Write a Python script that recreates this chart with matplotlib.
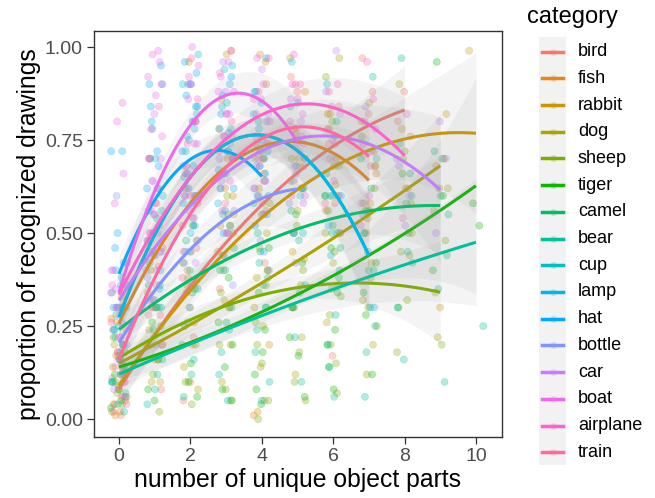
import numpy as np
import matplotlib.pyplot as plt
from matplotlib.lines import Line2D
from matplotlib.patches import Rectangle

plt.rcParams['font.family'] = ['Liberation Sans', 'DejaVu Sans']

categories = ['bird', 'fish', 'rabbit', 'dog', 'sheep', 'tiger', 'camel', 'bear',
              'cup', 'lamp', 'hat', 'bottle', 'car', 'boat', 'airplane', 'train']
colors = ['#F8766D', '#E68613', '#CD9600', '#ABA300', '#7CAE00', '#0CB702', '#00BE67', '#00C19A',
          '#00BFC4', '#00B8E7', '#00A9FF', '#8494FF', '#C77CFF', '#ED68ED', '#FF61CC', '#FF68A1']

# smooth fit read at x = 0, 1, 2, ... (one list per category)
fit_values = [
    [0.08, 0.227, 0.358, 0.474, 0.576, 0.662, 0.733, 0.789, 0.831],
    [0.257, 0.44, 0.58, 0.678, 0.733, 0.745, 0.715, 0.642],
    [0.09, 0.226, 0.346, 0.451, 0.542, 0.617, 0.677, 0.722, 0.753, 0.768, 0.768],
    [0.15, 0.201, 0.254, 0.309, 0.366, 0.425, 0.486, 0.549, 0.614, 0.681],
    [0.164, 0.22, 0.267, 0.305, 0.334, 0.353, 0.364, 0.365, 0.358, 0.341],
    [0.14, 0.171, 0.206, 0.245, 0.288, 0.335, 0.385, 0.44, 0.499, 0.561, 0.627],
    [0.241, 0.312, 0.374, 0.428, 0.474, 0.511, 0.54, 0.559, 0.571, 0.574],
    [0.121, 0.162, 0.202, 0.241, 0.278, 0.314, 0.349, 0.382, 0.415, 0.446, 0.475],
    [0.274, 0.495, 0.65, 0.74, 0.763, 0.721, 0.613, 0.44],
    [0.274, 0.495, 0.65, 0.74, 0.763, 0.721, 0.613, 0.44],
    [0.39, 0.589, 0.698, 0.719, 0.652],
    [0.206, 0.345, 0.456, 0.539, 0.594, 0.618],
    [0.319, 0.46, 0.574, 0.661, 0.721, 0.754, 0.76, 0.739, 0.691, 0.616],
    [0.34, 0.613, 0.79, 0.87, 0.855, 0.744],
    [0.335, 0.511, 0.65, 0.753, 0.818, 0.846, 0.837, 0.791, 0.708],
    [0.161, 0.379, 0.551, 0.676, 0.754, 0.785, 0.769, 0.706],
]

# half width of the confidence band at the same x values
fit_halfwidth = [
    [0.05, 0.04, 0.04, 0.04, 0.04, 0.05, 0.06, 0.08, 0.12],
    [0.05, 0.04, 0.04, 0.04, 0.04, 0.05, 0.07, 0.12],
    [0.05, 0.04, 0.04, 0.04, 0.04, 0.05, 0.06, 0.08, 0.11, 0.15, 0.22],
    [0.04, 0.03, 0.03, 0.03, 0.03, 0.04, 0.05, 0.07, 0.1, 0.14],
    [0.04, 0.03, 0.03, 0.03, 0.03, 0.03, 0.04, 0.06, 0.09, 0.14],
    [0.04, 0.03, 0.03, 0.03, 0.03, 0.04, 0.05, 0.07, 0.11, 0.18, 0.3],
    [0.04, 0.03, 0.03, 0.03, 0.03, 0.03, 0.04, 0.06, 0.09, 0.13],
    [0.04, 0.03, 0.03, 0.03, 0.03, 0.04, 0.05, 0.07, 0.1, 0.13, 0.17],
    [0.05, 0.04, 0.04, 0.04, 0.05, 0.07, 0.1, 0.15],
    [0.05, 0.04, 0.04, 0.04, 0.05, 0.07, 0.1, 0.16],
    [0.05, 0.04, 0.04, 0.05, 0.09],
    [0.06, 0.04, 0.04, 0.05, 0.07, 0.12],
    [0.05, 0.04, 0.04, 0.04, 0.05, 0.06, 0.08, 0.1, 0.14, 0.2],
    [0.06, 0.04, 0.04, 0.05, 0.07, 0.12],
    [0.05, 0.04, 0.04, 0.04, 0.05, 0.06, 0.08, 0.11, 0.16],
    [0.05, 0.04, 0.04, 0.04, 0.05, 0.06, 0.09, 0.13],
]

# observed proportions, one list per number of parts (0, 1, 2, ...)
point_values = [
    # bird
    [[0.01, 0.04, 0.06, 0.09, 0.11, 0.14, 0.17, 0.24], [0.08, 0.16, 0.28, 0.41], [0.05, 0.22, 0.4, 0.58],
     [0.35, 0.52, 0.66], [0.42, 0.6, 0.74], [0.5, 0.68, 0.88, 0.92], [0.58, 0.74, 0.84, 0.17],
     [0.68, 0.82, 0.97, 0.88], [0.76, 0.88, 0.8]],
    # fish
    [[0.02, 0.04, 0.12, 0.18, 0.27, 0.33], [0.3, 0.46, 0.58, 0.7], [0.45, 0.62, 0.8, 0.96, 0.52],
     [0.55, 0.7, 0.86, 0.99, 0.62, 0.78], [0.58, 0.74, 0.9, 0.98, 0.01, 0.66], [0.62, 0.78, 0.88, 0.7],
     [0.56, 0.7, 0.82], [0.5, 0.66, 0.58]],
    # rabbit
    [[0.01, 0.05, 0.08, 0.14, 0.2, 0.26], [0.1, 0.22, 0.34, 0.16], [0.2, 0.34, 0.48, 0.1],
     [0.3, 0.44, 0.6, 0.98, 0.52], [0.02, 0.4, 0.55, 0.7, 0.96, 0.62, 0.2], [0.45, 0.62, 0.77, 0.97, 0.68],
     [0.5, 0.68, 0.82, 0.6], [0.58, 0.72, 0.54, 0.8], [0.62, 0.78], [0.68, 0.82, 0.3], [0.99]],
    # dog
    [[0.06, 0.12, 0.2, 0.3, 0.17], [0.1, 0.2, 0.3, 0.24], [0.14, 0.26, 0.38, 0.08], [0.2, 0.32, 0.45, 0.55, 0.1],
     [0.25, 0.38, 0.5, 0.14, 0.3, 0.05], [0.3, 0.43, 0.56, 0.7, 0.22, 0.12],
     [0.35, 0.5, 0.63, 0.78, 0.97, 0.42, 0.26], [0.42, 0.56, 0.68, 0.85, 0.32, 0.2],
     [0.5, 0.62, 0.9, 0.44, 0.7], [0.56, 0.7, 0.22, 0.62]],
    # sheep
    [[0.02, 0.04, 0.1, 0.13, 0.16, 0.22, 0.3, 0.07], [0.02, 0.12, 0.2, 0.3, 0.4, 0.25],
     [0.04, 0.1, 0.2, 0.3, 0.42, 0.52, 0.36], [0.05, 0.08, 0.2, 0.3, 0.4, 0.5, 0.6, 0.34],
     [0.0, 0.05, 0.15, 0.26, 0.36, 0.46, 0.58, 0.7, 0.2, 0.4], [0.05, 0.18, 0.3, 0.4, 0.52, 0.64, 0.36, 0.1],
     [0.07, 0.2, 0.33, 0.45, 0.56, 0.68, 0.8, 0.92, 0.15, 0.28, 0.5], [0.12, 0.25, 0.38, 0.5, 0.62, 0.3, 0.76],
     [0.18, 0.32, 0.45, 0.58, 0.72], [0.2, 0.34, 0.48, 0.62]],
    # tiger
    [[0.03, 0.05, 0.12, 0.18, 0.08], [0.05, 0.08, 0.16, 0.26], [0.06, 0.15, 0.25, 0.35, 0.1],
     [0.05, 0.14, 0.26, 0.38, 0.08, 0.2], [0.04, 0.12, 0.24, 0.34, 0.46, 0.18, 0.08],
     [0.06, 0.17, 0.3, 0.42, 0.55, 0.22], [0.08, 0.2, 0.34, 0.46, 0.6, 0.24, 0.14],
     [0.12, 0.28, 0.42, 0.56, 0.34], [0.3, 0.5, 0.66], [0.4, 0.6, 0.96], [0.52, 0.58]],
    # camel
    [[0.1, 0.2, 0.28, 0.36, 0.16, 0.24], [0.16, 0.3, 0.42, 0.36, 0.24], [0.2, 0.34, 0.48, 0.6, 0.4],
     [0.26, 0.4, 0.52, 0.66, 0.46], [0.3, 0.45, 0.58, 0.7, 0.5, 0.38], [0.34, 0.5, 0.62, 0.75, 0.56],
     [0.38, 0.52, 0.66, 0.8, 0.6, 0.46], [0.4, 0.56, 0.7, 0.62], [0.42, 0.58, 0.74, 0.66], [0.44, 0.6, 0.72]],
    # bear
    [[0.02, 0.04, 0.1, 0.15, 0.22, 0.07, 0.3], [0.04, 0.12, 0.2, 0.3, 0.08, 0.36], [0.06, 0.16, 0.26, 0.35, 0.12],
     [0.05, 0.18, 0.3, 0.4, 0.12, 0.24], [0.05, 0.18, 0.3, 0.42, 0.1, 0.36, 0.24], [0.1, 0.22, 0.36, 0.48, 0.3],
     [0.06, 0.2, 0.36, 0.5, 0.6, 0.28, 0.14], [0.06, 0.25, 0.4, 0.55, 0.92, 0.18, 0.7],
     [0.16, 0.3, 0.45, 0.97, 0.6], [0.1, 0.35, 0.55, 0.7], [0.25]],
    # cup
    [[0.1, 0.2, 0.3, 0.42, 0.36, 0.24], [0.3, 0.45, 0.6, 0.54, 0.7, 0.4], [0.45, 0.6, 0.75, 0.9, 0.52, 0.66, 0.82],
     [0.55, 0.7, 0.85, 0.62, 0.78, 0.94], [0.55, 0.72, 0.88, 0.64, 0.8], [0.5, 0.68, 0.84, 0.6],
     [0.4, 0.6, 0.9, 0.5], [0.3, 0.5]],
    # lamp
    [[0.14, 0.25, 0.34, 0.72, 0.4, 0.3], [0.32, 0.48, 0.62, 0.8, 0.56, 0.7, 0.9],
     [0.5, 0.65, 0.78, 0.9, 0.98, 0.58, 0.72, 0.84], [0.58, 0.72, 0.84, 0.95, 0.66, 0.78, 0.9],
     [0.6, 0.75, 0.88, 0.97, 0.68, 0.82], [0.5, 0.7, 0.85, 0.96, 0.62], [0.44, 0.6, 0.76, 0.52], [0.3, 0.45]],
    # hat
    [[0.18, 0.3, 0.42, 0.5, 0.72, 0.38, 0.46], [0.35, 0.5, 0.62, 0.72, 0.84, 0.95, 0.44, 0.56, 0.68, 0.78, 0.9],
     [0.45, 0.58, 0.68, 0.76, 0.84, 0.9, 0.96, 0.52, 0.62, 0.72, 0.8, 0.87, 0.93],
     [0.5, 0.62, 0.72, 0.82, 0.92, 0.56, 0.67, 0.77, 0.87], [0.45, 0.6, 0.72, 0.85, 0.52, 0.66, 0.78]],
    # bottle
    [[0.06, 0.16, 0.24, 0.3, 0.6, 0.2, 0.12], [0.2, 0.32, 0.45, 0.55, 0.38, 0.5],
     [0.3, 0.42, 0.54, 0.66, 0.48, 0.36, 0.6], [0.36, 0.5, 0.62, 0.74, 0.44, 0.56],
     [0.4, 0.55, 0.68, 0.8, 0.48, 0.62], [0.42, 0.58, 0.72, 0.64]],
    # car
    [[0.08, 0.2, 0.3, 0.4, 0.26, 0.35], [0.3, 0.45, 0.58, 0.7, 0.52, 0.64, 0.4],
     [0.42, 0.56, 0.68, 0.8, 0.62, 0.74, 0.9], [0.5, 0.64, 0.76, 0.88, 0.7, 0.82, 0.96],
     [0.55, 0.7, 0.82, 0.94, 0.76, 0.64], [0.58, 0.74, 0.86, 0.8, 0.68], [0.6, 0.75, 0.88, 0.99, 0.7, 0.82],
     [0.58, 0.72, 0.84, 0.78], [0.52, 0.68, 0.6], [0.5, 0.7, 0.8]],
    # boat
    [[0.12, 0.28, 0.4, 0.66, 0.8, 0.34, 0.22, 0.58], [0.4, 0.56, 0.7, 0.82, 0.92, 0.99, 0.64, 0.76, 0.87, 0.5, 0.96],
     [0.6, 0.74, 0.86, 0.95, 1.0, 0.68, 0.8, 0.9], [0.7, 0.82, 0.92, 0.99, 0.76, 0.88, 0.96],
     [0.68, 0.8, 0.9, 0.97, 0.74, 0.86], [0.6, 0.75, 0.9, 0.82]],
    # airplane
    [[0.1, 0.22, 0.36, 0.85, 0.3, 0.04, 0.16], [0.32, 0.48, 0.62, 0.78, 0.9, 0.55, 0.7, 0.84, 0.98],
     [0.45, 0.6, 0.74, 0.86, 0.97, 0.66, 0.8, 0.92], [0.56, 0.7, 0.82, 0.93, 0.64, 0.76, 0.88],
     [0.62, 0.76, 0.88, 0.97, 0.7, 0.82], [0.66, 0.8, 0.9, 0.98, 0.74, 0.86], [0.64, 0.78, 0.9, 0.84],
     [0.6, 0.74, 0.86, 0.96], [0.54, 0.7, 0.82]],
    # train
    [[0.02, 0.1, 0.18, 0.26, 0.06, 0.14], [0.2, 0.36, 0.5, 0.28, 0.44], [0.38, 0.54, 0.68, 0.46, 0.6],
     [0.5, 0.66, 0.8, 0.58, 0.72], [0.56, 0.72, 0.86, 0.64], [0.6, 0.76, 0.9, 0.7], [0.58, 0.74, 0.88],
     [0.52, 0.68, 0.8]],
]

W, H = 655, 498
fig = plt.figure(figsize=(W / 100, H / 100), dpi=100)
ax = fig.add_axes([94 / W, 1 - 437 / H, (502 - 94) / W, (437 - 31) / H])

# jittered points (fixed, non random jitter)
xs, ys, cs = [], [], []
k = 0
for col in range(11):
    for i in range(len(categories)):
        if col < len(point_values[i]):
            for y in point_values[i][col]:
                k += 1
                xs.append(col + ((k * 0.6180339887) % 1 - 0.5) * 0.46)
                ys.append(y)
                cs.append(colors[i])
ax.scatter(xs, ys, s=26, c=cs, alpha=0.3, linewidths=0.4, edgecolors=cs, zorder=1)

# smooth + ribbon per category
for i in range(len(categories)):
    vals = np.array(fit_values[i])
    hw = np.array(fit_halfwidth[i])
    xi = np.arange(len(vals))
    xf = np.linspace(0, len(vals) - 1, 100)
    yf = np.polyval(np.polyfit(xi, vals, 2), xf)
    hf = np.polyval(np.polyfit(xi, hw, min(3, len(hw) - 1)), xf)
    ax.fill_between(xf, yf - hf, yf + hf, color='#999999', alpha=0.1, linewidth=0, zorder=2)
    ax.plot(xf, yf, color=colors[i], lw=2.2, solid_capstyle='butt', zorder=2)

ax.set_xlim(-0.7, 10.73)
ax.set_ylim(-0.048, 1.043)
ax.set_xticks([0, 2, 4, 6, 8, 10])
ax.set_yticks([0, 0.25, 0.5, 0.75, 1.0])
ax.set_yticklabels(['0.00', '0.25', '0.50', '0.75', '1.00'])
ax.tick_params(colors='#333333', labelcolor='#4D4D4D', labelsize=14, length=5, width=0.9, pad=3)
for s in ax.spines.values():
    s.set_color('#333333')
    s.set_linewidth(1.0)
ax.set_xlabel('number of unique object parts', fontsize=17.8, labelpad=2)
ax.set_ylabel('proportion of recognized drawings', fontsize=17.8, labelpad=3)

# legend
fig.text(527 / W, 1 - 17 / H, 'category', fontsize=17, va='center', ha='left')
fig.patches.append(Rectangle((539 / W, 1 - 465 / H), 27 / W, 428 / H,
                             transform=fig.transFigure, facecolor='#F2F2F2', edgecolor='none'))
for i, cat in enumerate(categories):
    yc = 1 - (51.7 + 26.7 * i) / H
    fig.lines.append(Line2D([542 / W, 563 / W], [yc, yc], transform=fig.transFigure,
                            color=colors[i], lw=2.5))
    fig.lines.append(Line2D([552.5 / W], [yc], transform=fig.transFigure, marker='o',
                            markersize=5, color=colors[i], alpha=0.25, markeredgewidth=0))
    fig.text(578 / W, yc, cat, fontsize=13, va='center', ha='left')

fig.savefig('out.png', dpi=100)
